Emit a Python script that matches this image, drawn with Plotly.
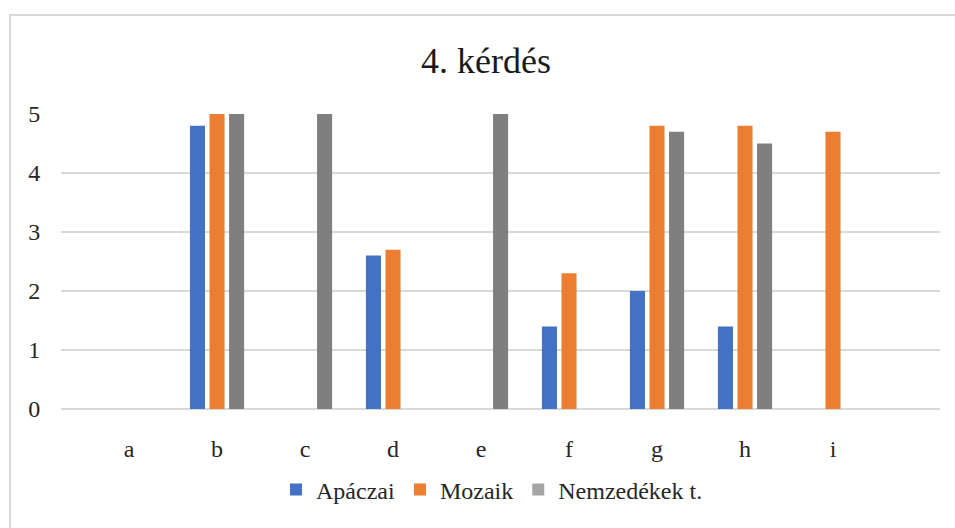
import plotly.graph_objects as go

categories = ["a", "b", "c", "d", "e", "f", "g", "h", "i"]
apaczai = [None, 4.8, None, 2.6, None, 1.4, 2.0, 1.4, None]
mozaik = [None, 5.0, None, 2.7, None, 2.3, 4.8, 4.8, 4.7]
nemzedekek = [None, 5.0, 5.0, None, 5.0, None, 4.7, 4.5, None]
series_names = ["Apáczai", "Mozaik", "Nemzedékek t."]
colors = ["#4472C4", "#ED7D31", "#7F7F7F"]
legend_colors = ["#4472C4", "#ED7D31", "#A5A5A5"]
y_ticks = [0, 1, 2, 3, 4, 5]

FONT = "Liberation Serif"

fig = go.Figure()
for name, vals, col in zip(series_names, [apaczai, mozaik, nemzedekek], colors):
    fig.add_trace(go.Bar(x=categories, y=vals, name=name, showlegend=False,
                         marker=dict(color=col, line=dict(width=0))))
for name, lcol in zip(series_names, legend_colors):
    fig.add_trace(go.Scatter(x=[None], y=[None], mode="markers", name=name,
                             marker=dict(symbol="square", size=12, color=lcol,
                                         line=dict(width=0))))

W, H = 955, 528
L, R, T, B = 61, 15, 114, 119
pw, ph = W - L - R, H - T - B

def px_x(x):
    return (x - L) / pw

def px_y(y):
    return (H - B - y) / ph

fig.update_layout(
    width=W, height=H,
    margin=dict(l=L, r=R, t=T, b=B),
    paper_bgcolor="white", plot_bgcolor="white",
    barmode="group", bargap=0.333, bargroupgap=0.23,
    font=dict(family=FONT, size=24, color="#262626"),
    title=dict(text="4. kérdés", x=0.509, xanchor="center", y=1 - 60 / H, yanchor="middle",
               font=dict(family=FONT, size=36, color="#1a1a1a")),
    xaxis=dict(type="category", range=[-0.773, 9.216], showgrid=False,
               showline=False, zeroline=False,
               ticks="outside", ticklen=18, tickcolor="rgba(0,0,0,0)",
               tickfont=dict(family=FONT, size=24, color="#262626")),
    yaxis=dict(range=[0, 5], tickvals=y_ticks, showgrid=True, gridcolor="#D9D9D9",
               gridwidth=1.5, zeroline=True, zerolinecolor="#D9D9D9", zerolinewidth=1.5,
               showline=False, ticks="outside", ticklen=15, tickcolor="rgba(0,0,0,0)",
               tickfont=dict(family=FONT, size=24, color="#262626")),
    legend=dict(orientation="h", x=px_x(492), xanchor="center", y=px_y(490), yanchor="middle",
                font=dict(family=FONT, size=24, color="#262626"),
                itemwidth=30, tracegroupgap=0, bgcolor="rgba(0,0,0,0)"),
    showlegend=True,
)

fig.add_shape(type="rect", xref="paper", yref="paper",
              x0=px_x(10), x1=px_x(1000), y0=px_y(600), y1=px_y(15),
              line=dict(color="#D9D9D9", width=2), fillcolor="rgba(0,0,0,0)", layer="below")

fig.write_html("out.html", config={"displayModeBar": False})

with open("out.html", "r", encoding="utf-8") as f:
    html = f.read()
html = html.replace("<head>", "<head><style>html,body{margin:0;padding:0;overflow:hidden;}</style>", 1)
with open("out.html", "w", encoding="utf-8") as f:
    f.write(html)
